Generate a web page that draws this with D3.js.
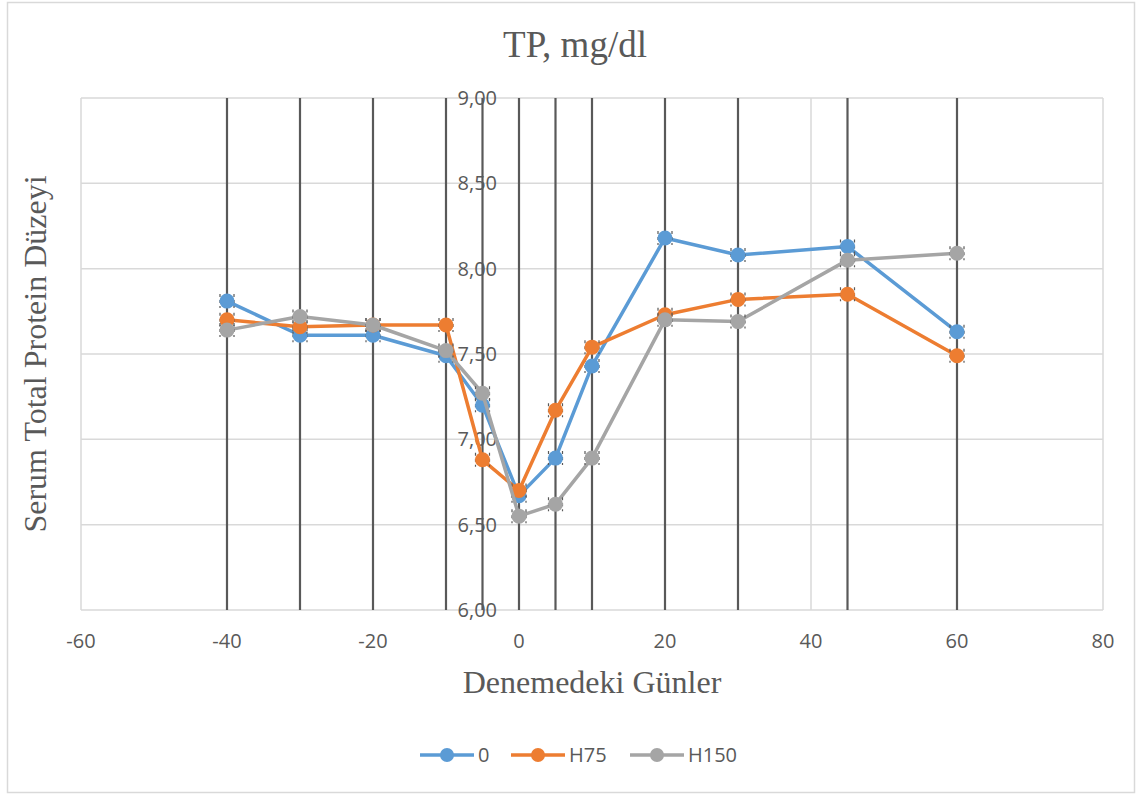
<!DOCTYPE html>
<html>
<head>
<meta charset="utf-8">
<script src="https://cdn.jsdelivr.net/npm/d3@7"></script>
<style>
  body { margin: 0; background: #fff; }
</style>
</head>
<body>
<div id="chart"></div>
<script>
const days = [-40, -30, -20, -10, -5, 0, 5, 10, 20, 30, 45, 60];
const seriesNames = ['0', 'H75', 'H150'];
const s0 = [7.81, 7.61, 7.61, 7.49, 7.20, 6.67, 6.89, 7.43, 8.18, 8.08, 8.13, 7.63];
const sH75 = [7.70, 7.66, 7.67, 7.67, 6.88, 6.70, 7.17, 7.54, 7.73, 7.82, 7.85, 7.49];
const sH150 = [7.64, 7.72, 7.67, 7.52, 7.27, 6.55, 6.62, 6.89, 7.70, 7.69, 8.05, 8.09];
const xTicks = [-60, -40, -20, 0, 20, 40, 60, 80];
const yTicks = [6.0, 6.5, 7.0, 7.5, 8.0, 8.5, 9.0];
const colors = ['#5b9bd5', '#ed7d31', '#a5a5a5'];

const W = 1141, H = 794;
const plot = { left: 81, right: 1103, top: 98, bottom: 610 };

const svg = d3.select('#chart').append('svg')
  .attr('width', W).attr('height', H);

// outer chart border
svg.append('rect')
  .attr('x', 7.5).attr('y', 2.5).attr('width', 1127).attr('height', 790)
  .attr('fill', '#fff').attr('stroke', '#d9d9d9').attr('stroke-width', 1.5);

const x = d3.scaleLinear().domain([-60, 80]).range([plot.left, plot.right]);
const y = d3.scaleLinear().domain([6, 9]).range([plot.bottom, plot.top]);

// gridlines
svg.append('g').selectAll('line').data(yTicks).join('line')
  .attr('x1', plot.left).attr('x2', plot.right)
  .attr('y1', d => y(d)).attr('y2', d => y(d))
  .attr('stroke', '#d9d9d9').attr('stroke-width', 1.5);
svg.append('g').selectAll('line').data(xTicks).join('line')
  .attr('x1', d => x(d)).attr('x2', d => x(d))
  .attr('y1', plot.top).attr('y2', plot.bottom)
  .attr('stroke', '#d9d9d9').attr('stroke-width', 1.5);

// dark vertical lines at each day
svg.append('g').selectAll('line').data(days).join('line')
  .attr('x1', d => x(d)).attr('x2', d => x(d))
  .attr('y1', plot.top).attr('y2', plot.bottom)
  .attr('stroke', '#595959').attr('stroke-width', 2.2);

// tick labels
const tickFont = '"Open Sans", "Liberation Sans", sans-serif';
svg.append('g').selectAll('text').data(xTicks).join('text')
  .attr('x', d => x(d)).attr('y', 648)
  .attr('text-anchor', 'middle')
  .attr('font-family', tickFont).attr('font-size', 20).attr('fill', '#595959')
  .text(d => d);
svg.append('g').selectAll('text').data(yTicks).join('text')
  .attr('x', 497).attr('y', d => y(d) + 7)
  .attr('text-anchor', 'end')
  .attr('font-family', tickFont).attr('font-size', 20).attr('fill', '#595959')
  .text(d => d3.format('.2f')(d).replace('.', ','));

// titles
const serif = '"Liberation Serif", "Times New Roman", serif';
svg.append('text')
  .attr('x', 575).attr('y', 57).attr('text-anchor', 'middle')
  .attr('font-family', serif).attr('font-size', 37).attr('fill', '#595959')
  .text('TP, mg/dl');
svg.append('text')
  .attr('x', (plot.left + plot.right) / 2).attr('y', 693).attr('text-anchor', 'middle')
  .attr('font-family', serif).attr('font-size', 32).attr('fill', '#595959')
  .text('Denemedeki Günler');
svg.append('text')
  .attr('transform', `translate(46,${(plot.top + plot.bottom) / 2}) rotate(-90)`)
  .attr('text-anchor', 'middle')
  .attr('font-family', serif).attr('font-size', 32).attr('fill', '#595959')
  .text('Serum Total Protein Düzeyi');

// series
const allSeries = [s0, sH75, sH150];
const line = d3.line().x(d => x(d[0])).y(d => y(d[1]));

allSeries.forEach((vals, i) => {
  const pts = days.map((d, j) => [d, vals[j]]);
  const g = svg.append('g');
  g.append('path').datum(pts)
    .attr('d', line).attr('fill', 'none')
    .attr('stroke', colors[i]).attr('stroke-width', 3.5)
    .attr('stroke-linejoin', 'round');
  // small error-bar caps
  [-7, 7].forEach(off => {
    g.selectAll(null).data(pts).join('line')
      .attr('x1', d => x(d[0]) + off).attr('x2', d => x(d[0]) + off)
      .attr('y1', d => y(d[1]) - 7).attr('y2', d => y(d[1]) + 7)
      .attr('stroke', '#595959').attr('stroke-width', 1.2)
      .attr('stroke-dasharray', '3,3');
  });
  g.selectAll('circle').data(pts).join('circle')
    .attr('cx', d => x(d[0])).attr('cy', d => y(d[1])).attr('r', 7.5)
    .attr('fill', colors[i]);
});

// legend
const legendX = [420, 511, 630];
const lg = svg.append('g');
seriesNames.forEach((name, i) => {
  const lx = legendX[i];
  lg.append('line')
    .attr('x1', lx).attr('x2', lx + 54).attr('y1', 755).attr('y2', 755)
    .attr('stroke', colors[i]).attr('stroke-width', 3.5);
  lg.append('circle')
    .attr('cx', lx + 27).attr('cy', 755).attr('r', 7).attr('fill', colors[i]);
  lg.append('text')
    .attr('x', lx + 58).attr('y', 762)
    .attr('font-family', tickFont).attr('font-size', 20).attr('fill', '#595959')
    .text(name);
});
</script>
</body>
</html>
